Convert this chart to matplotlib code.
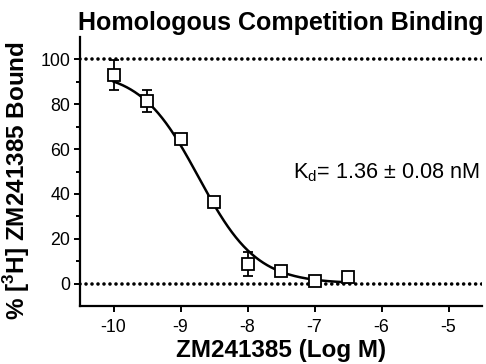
import numpy as np
import matplotlib
matplotlib.use('Agg')
import matplotlib.pyplot as plt
from matplotlib.ticker import FixedLocator

plt.rcParams['font.family'] = ['Liberation Sans', 'DejaVu Sans']
plt.rcParams['mathtext.fontset'] = 'custom'
plt.rcParams['mathtext.rm'] = 'Liberation Sans'
plt.rcParams['mathtext.bf'] = 'Liberation Sans:bold'
plt.rcParams['axes.unicode_minus'] = False

# DATA
log_conc = [-10, -9.5, -9, -8.5, -8, -7.5, -7, -6.5]      # log M ZM241385
bound = [93, 81.4, 64.3, 36.3, 8.7, 5.6, 1.3, 3.0]         # % specific bound
bound_sem = [6.7, 5.0, 1.8, 1.0, 5.2, 0.8, 0.6, 0.6]

# FIT PARAMETERS (one-site homologous)
kd = 1.36e-9          # (M) fitted Kd
kd_sem = 0.08e-9
hot = 0.5e-9          # (M) radioligand concentration
top = 95.0
bottom = 0.0

log_ic50 = np.log10(kd + hot)
x_fit = np.linspace(-10, -6.5, 300)
y_fit = bottom + (top - bottom)/(1 + 10**(x_fit - log_ic50))

fig = plt.figure(figsize=(4.86, 3.64), dpi=100)
ax = fig.add_axes([80/486, 1 - 306/364, 402/486, 269/364])

# reference lines at 0 and 100 %
dots = (0, (0.01, 1.65))
ax.axhline(100, color='black', lw=2.6, ls=dots, dash_capstyle='round', zorder=1)
ax.axhline(0, color='black', lw=2.6, ls=dots, dash_capstyle='round', zorder=1)

ax.plot(x_fit, y_fit, color='black', lw=1.8, zorder=2)
ax.errorbar(log_conc, bound, yerr=bound_sem, fmt='s', mfc='white', mec='black',
            mew=1.3, ms=8.8, ecolor='black', elinewidth=1.3, capsize=3.8,
            capthick=1.3, zorder=3)

ax.set_xlim(-10.5, -4.5)
ax.set_ylim(-10, 110)
ax.set_xticks([-10, -9, -8, -7, -6, -5])
ax.set_yticks([0, 20, 40, 60, 80, 100])
ax.yaxis.set_minor_locator(FixedLocator([10, 30, 50, 70, 90]))

for side in ['top', 'right']:
    ax.spines[side].set_visible(False)
for side in ['left', 'bottom']:
    ax.spines[side].set_linewidth(1.6)

ax.tick_params(which='major', direction='out', length=4.5, width=1.4,
               labelsize=12.8)
ax.tick_params(axis='x', which='major', pad=5)
ax.tick_params(axis='y', which='major', pad=2.5)
ax.tick_params(which='minor', direction='out', length=2.6, width=1.4)

ax.set_title('Homologous Competition Binding', fontsize=18, fontweight='bold', pad=5)
ax.set_xlabel('ZM241385 (Log M)', fontsize=17.5, fontweight='bold', labelpad=2)
ax.set_ylabel(r'% [$^\mathbf{3}$H] ZM241385 Bound', fontsize=17.5, fontweight='bold')
ax.yaxis.set_label_coords(-0.12, 0.465)

ax.text(-7.32, 47, r'K$_\mathrm{d}$= %.2f ± %.2f nM' % (kd*1e9, kd_sem*1e9),
        fontsize=15.6, va='baseline', ha='left')

fig.savefig('out.png', dpi=100)
